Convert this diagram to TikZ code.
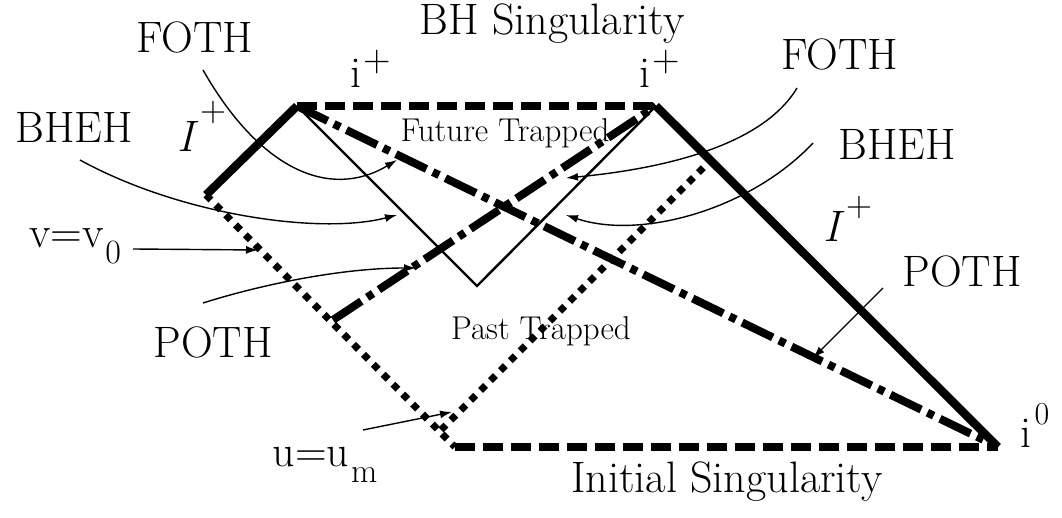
\documentclass[tikz,border=0pt]{standalone}
\usetikzlibrary{arrows.meta}
\newcommand{\shiftmark}[3]{\raisebox{#1}{\fontsize{#2}{#2}\selectfont #3}}
\tikzset{
	bigtext/.style={
			inner sep=0pt,
			anchor=base,
			font=\fontsize{22}{26}\selectfont
		},
	smalltext/.style={
			inner sep=0pt,
			anchor=base,
			font=\fontsize{16.5}{20}\selectfont
		},
	horizonline/.style={
			line width=4.2pt
		},
	thinline/.style={
			line width=1.2pt
		},
	singline/.style={
			line width=3.6pt,
			dash pattern=on 10pt off 4pt
		},
	dotline/.style={
			line width=3.5pt,
			dash pattern=on 3.5pt off 3.5pt
		},
	dashdotline/.style={
			line width=4pt,
			dash pattern=on 17pt off 3.5pt on 3.5pt off 3.5pt
		},
	pointer/.style={
			line width=0.7pt,
			-{Latex[length=6pt,width=4pt]}
		}
}

\begin{document}
\begin{tikzpicture}[x=0.5pt, y=-0.5pt]
\useasboundingbox (0,0) rectangle (1062,518);

\coordinate (il) at (297,106);
\coordinate (ir) at (656,106);
\coordinate (scri) at (206,195);
\coordinate (io) at (998,447);
\coordinate (ic) at (455,447);
\coordinate (vb) at (477,286);
\coordinate (pt) at (333,320);
\coordinate (ua) at (441,430);
\coordinate (ub) at (710,161);

\draw[singline] (il) -- (ir);
\draw[singline] (ic) -- (io);

\draw[horizonline] (scri) -- (il);
\draw[horizonline] (ir) -- (io);

\draw[dotline] (scri) -- (ic);
\draw[dotline] (ua) -- (ub);

\draw[thinline] (il) -- (vb) -- (ir);

\draw[dashdotline] (il) -- (io);
\draw[dashdotline] (pt) -- (ir);

\node[bigtext] (bhs) at (552,35) {BH Singularity};
\node[bigtext] (ins) at (727,493) {Initial Singularity};
\node[bigtext] (ipl) at (371,88) {i\kern1pt\shiftmark{8pt}{19}{+}};
\node[bigtext] (ipr) at (660,88) {i\kern1pt\shiftmark{8pt}{19}{+}};
\node[bigtext] (izero) at (1035,448) {i\kern1.5pt\shiftmark{11.5pt}{16}{0}};
\node[bigtext] (scril) at (202,152) {\textit{I}\kern0.5pt\shiftmark{15pt}{18}{+}};
\node[bigtext] (scrir) at (848,242) {\textit{I}\kern0.5pt\shiftmark{12.5pt}{18}{+}};
\node[smalltext] (ftr) at (505,142) {Future Trapped};
\node[smalltext] (ptr) at (541,340) {Past Trapped};

\node[bigtext] (fothl) at (195,53) {FOTH};
\node[bigtext] (fothr) at (840,70) {FOTH};
\node[bigtext] (bhehl) at (74,143) {BHEH};
\node[bigtext] (bhehr) at (897,160) {BHEH};
\node[bigtext] (pothl) at (213,358) {POTH};
\node[bigtext] (pothr) at (962,287) {POTH};
\node[bigtext] (vnull) at (75,248) {v=v\kern1pt\shiftmark{-8pt}{17}{0}};
\node[bigtext] (um) at (325,467) {u=u\kern1pt\shiftmark{-8pt}{17}{m}};

\coordinate (fls) at (203,70);
\coordinate (fle) at (397,160);
\coordinate (bls) at (80,160);
\coordinate (ble) at (397,215);
\coordinate (vs) at (133,249);
\coordinate (ve) at (258,250);
\coordinate (pls) at (203,303);
\coordinate (ple) at (416,268);
\coordinate (us) at (363,430);
\coordinate (ue) at (452,412);
\coordinate (frs) at (797,88);
\coordinate (fre) at (566,178);
\coordinate (brs) at (813,143);
\coordinate (bre) at (566,215);
\coordinate (prs) at (883,288);
\coordinate (pre) at (813,358);

\draw[pointer] (fls) .. controls (260,170) and (330,200) .. (fle);
\draw[pointer] (bls) .. controls (180,215) and (320,235) .. (ble);
\draw[pointer] (vs) -- (ve);
\draw[pointer] (pls) .. controls (260,285) and (340,268) .. (ple);
\draw[pointer] (us) -- (ue);
\draw[pointer] (frs) .. controls (760,150) and (650,170) .. (fre);
\draw[pointer] (brs) .. controls (750,210) and (640,240) .. (bre);
\draw[pointer] (prs) -- (pre);

\end{tikzpicture}
\end{document}
